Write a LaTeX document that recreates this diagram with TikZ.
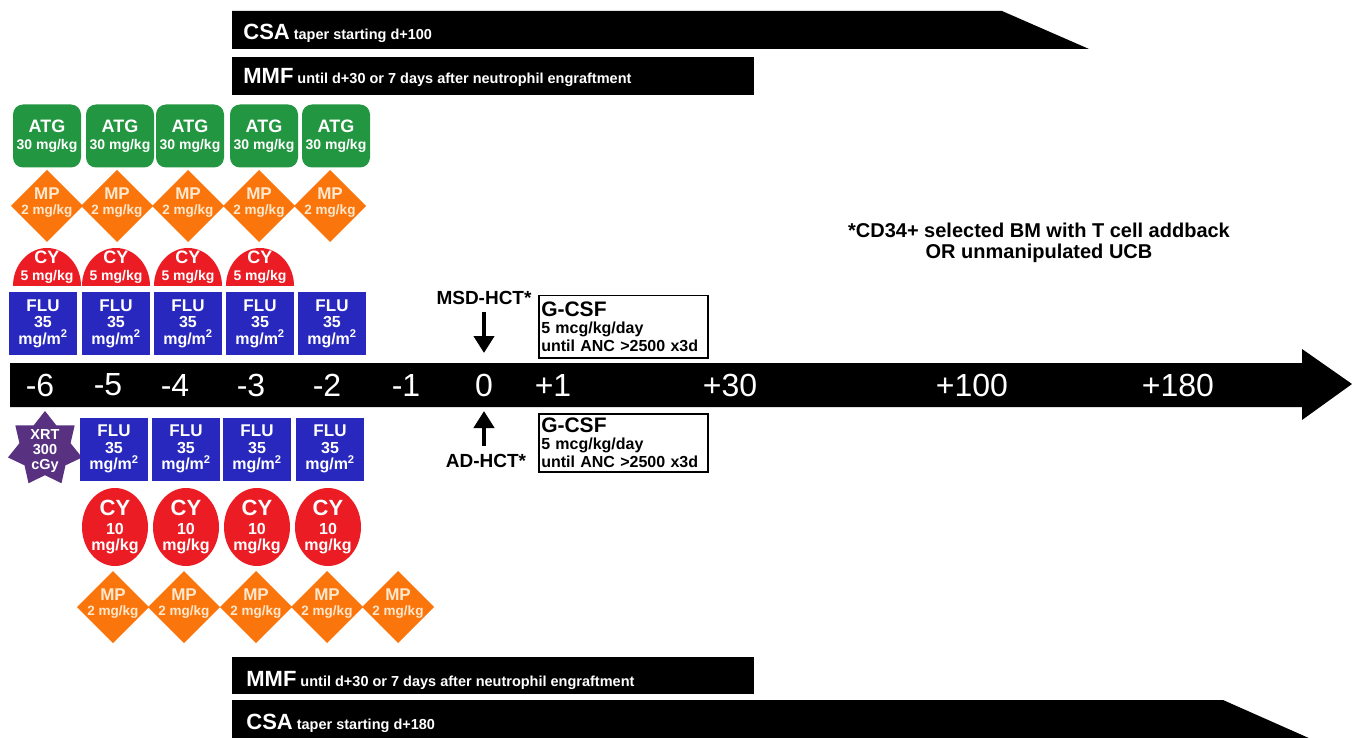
\documentclass[tikz,border=0pt]{standalone}
\usepackage{fontspec}
\setmainfont{Liberation Sans}
\usetikzlibrary{shapes.geometric,arrows.meta}

\definecolor{atggreen}{RGB}{34,150,64}
\definecolor{mporange}{RGB}{250,118,12}
\definecolor{mptext}{RGB}{255,232,205}
\definecolor{cyred}{RGB}{236,28,36}
\definecolor{flublue}{RGB}{40,40,190}
\definecolor{xrtpurple}{RGB}{88,50,128}

\newcommand{\fsz}[2]{\fontsize{#1}{#2}\selectfont}

\tikzset{every picture/.style={line width=0.75pt},
  atgbox/.style={fill=atggreen, rounded corners=10pt, minimum width=68pt, minimum height=63pt, inner sep=0pt, text=white, align=center, font=\bfseries\fsz{14}{17}},
  flubox/.style={fill=flublue, minimum width=68pt, minimum height=63pt, inner sep=0pt, text=white, align=center, font=\bfseries\fsz{16}{16.5}},
  mplab/.style={text=mptext, align=center, inner sep=0pt, font=\bfseries\fsz{13.5}{15}},
  cylab/.style={text=white, align=center, inner sep=0pt, font=\bfseries\fsz{14}{17}},
  xrtstar/.style={star, star points=7, star point ratio=1.45, minimum size=76pt, inner sep=0pt, fill=xrtpurple},
  daylab/.style={text=white, inner sep=0pt, font=\fsz{32}{32}},
  barlab/.style={text=white, anchor=base west, inner sep=0pt, font=\bfseries\fsz{14.5}{14.5}},
  hctlab/.style={font=\bfseries\fsz{19}{19}},
  hctarrow/.style={line width=4.5pt, -{Triangle[width=20pt,length=17pt]}},
  gcsfbox/.style={draw, line width=1.5pt, anchor=north west, text width=164pt, inner sep=2.5pt, align=left, font=\bfseries\fsz{16}{17.5}}
}

\begin{document}
\begin{tikzpicture}[x=1pt,y=1pt,yscale=-1,xscale=1]
\useasboundingbox (0,0) rectangle (1361,738);

%Shape: CSA bar top
\fill (232,11) -- (1002,11) -- (1089,49) -- (232,49) -- cycle;
\node[barlab] (csaa) at (243,40) {{\fsz{22}{22}CSA} taper starting d+100};
%Shape: MMF bar top
\fill (232,57) rectangle (754,95);
\node[barlab] (mmfa) at (243,84) {{\fsz{22}{22}MMF} until d+30 or 7 days after neutrophil engraftment};

%ATG
\foreach \x [count=\i] in {47,120,190,264,336}
  \node[atgbox] (atg\i) at (\x,136) {{\fsz{18}{18}ATG}\\30 mg/kg};

%MP top
\foreach \x [count=\i] in {47,117,188,259,330}{
  \fill[mporange] (\x,170) -- (\x+36,206) -- (\x,242) -- (\x-36,206) -- cycle;
  \node[mplab] (mpa\i) at (\x,203) {{\fsz{17}{17}MP}\\2 mg/kg};
}

%CY top
\foreach \x [count=\i] in {47,116,188,260}{
  \fill[cyred] (\x-34,286) arc[start angle=180, end angle=360, x radius=34, y radius=38] -- cycle;
  \node[cylab] (cya\i) at (\x,267) {{\fsz{18}{18}CY}\\5 mg/kg};
}

%FLU top
\foreach \x [count=\i] in {43,116,188,260,332}
  \node[flubox] (flua\i) at (\x,323.5) {{\fsz{17}{17}FLU}\\35\\mg/m\textsuperscript{2}};

%Timeline
\fill (10,363) -- (1302,363) -- (1302,349) -- (1352,384) -- (1302,420) -- (1302,407) -- (10,407) -- cycle;
\foreach \x/\d [count=\i] in {40/-6,108/-5,175/-4,251/-3,327/-2,406/-1,484/0,553/+1,730/+30,972/+100,1178/+180}
  \node[daylab] (day\i) at (\x,385) {\d};

%HCT
\node[hctlab] (msd) at (484,298) {MSD-HCT*};
\coordinate (msdtip) at (484,353);
\draw[hctarrow, shorten <=4pt] (msd) -- (msdtip);
\node[hctlab] (ad) at (486,461) {AD-HCT*};
\coordinate (adtip) at (484,411);
\draw[hctarrow, shorten <=5pt] (ad.north -| adtip) -- (adtip);

%G-CSF
\node[gcsfbox, minimum height=62pt] (gcsfa) at (538,295) {{\fsz{21}{21}G-CSF}\\5 mcg/kg/day\\until ANC >2500 x3d};
\node[gcsfbox, minimum height=58pt] (gcsfb) at (538,413) {{\fsz{21}{21}G-CSF}\\5 mcg/kg/day\\until ANC >2500 x3d};

%Note
\node[font=\bfseries\fsz{20}{20.5}, align=center] (note) at (1039,243) {*CD34+ selected BM with T cell addback\\OR unmanipulated UCB};

%XRT
\node[xrtstar] (xrtbg) at (45,449) {};
\node[text=white, align=center, inner sep=0pt, font=\bfseries\fsz{14.5}{15}] (xrt) at (45,451) {XRT\\300\\cGy};

%FLU bottom
\foreach \x [count=\i] in {114,186,257,330}
  \node[flubox] (flub\i) at (\x,449) {{\fsz{17}{17}FLU}\\35\\mg/m\textsuperscript{2}};

%CY bottom
\foreach \x [count=\i] in {115,186,257,328}{
  \fill[cyred] (\x,527) ellipse[x radius=33, y radius=39];
  \node[cylab, font=\bfseries\fsz{16}{16.5}] (cyb\i) at (\x,527) {{\fsz{22}{22}CY}\\[2.5pt]10\\mg/kg};
}

%MP bottom
\foreach \x [count=\i] in {113,184,256,327,398}{
  \fill[mporange] (\x,571) -- (\x+36,607) -- (\x,643) -- (\x-36,607) -- cycle;
  \node[mplab] (mpb\i) at (\x,604) {{\fsz{17}{17}MP}\\2 mg/kg};
}

%Shape: MMF bar bottom
\fill (232,657) rectangle (754,694);
\node[barlab] (mmfb) at (246,686) {{\fsz{22}{22}MMF} until d+30 or 7 days after neutrophil engraftment};
%Shape: CSA bar bottom
\fill (232,700) -- (1223,700) -- (1311,739) -- (232,739) -- cycle;
\node[barlab] (csab) at (246,729) {{\fsz{22}{22}CSA} taper starting d+180};

\end{tikzpicture}
\end{document}
